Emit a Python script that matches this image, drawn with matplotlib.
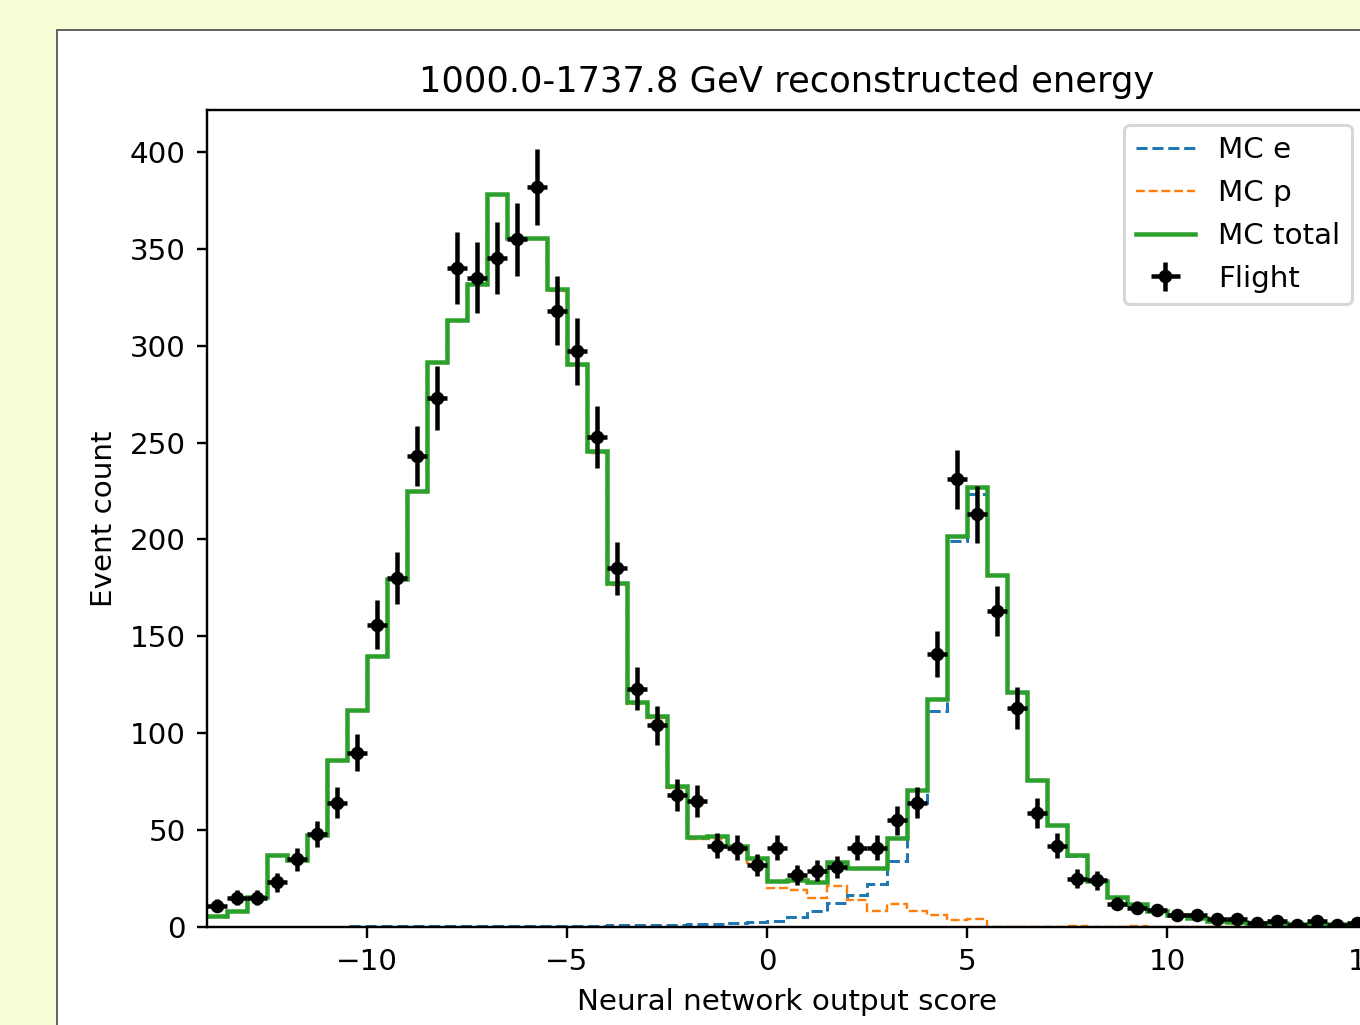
import numpy as np
from matplotlib import pyplot as plt
from matplotlib.patches import Rectangle

plt.rcParams['font.size'] = 9.8

# binning of the network score histogram
edges = np.arange(-14, 15.01, 0.5)
centers = edges[:-1] + 0.25

flight = [11, 15, 15, 23, 35, 48, 64, 90, 156, 180,
          243, 273, 340, 335, 345, 355, 382, 318, 297, 253,
          185, 123, 104, 68, 65, 42, 41, 32, 41, 27,
          29, 31, 41, 41, 55, 64, 141, 231, 213, 163,
          113, 59, 42, 25, 24, 12, 10, 9, 6, 6,
          4, 4, 2, 3, 1, 3, 1, 2]

mc_e = [0.1, 0.1, 0.1, 0.2, 0.2, 0.2, 0.2, 0.3, 0.3, 0.3,
        0.3, 0.4, 0.4, 0.4, 0.5, 0.5, 0.5, 0.6, 0.6, 0.7,
        0.8, 0.8, 0.9, 1.1, 1.3, 1.7, 2.2, 2.6, 3.0, 5.0,
        8.3, 12.2, 16.5, 22.0, 34.0, 63.0, 111.5, 199.0, 223.5, 181.5,
        121.5, 76.0, 52.5, 36.5, 23.5, 15.5, 11.5, 8.0, 6.0, 4.5,
        3.0, 2.5, 2.0, 2.0, 1.5, 1.5, 1.5, 1.5]

mc_p = [5.4, 7.9, 15.4, 36.8, 34.3, 47.3, 85.8, 111.7, 139.7, 179.2,
        224.7, 291.1, 312.6, 331.6, 377.5, 355.0, 355.0, 328.4, 289.9, 244.8,
        176.7, 115.2, 108.1, 71.9, 45.2, 45.3, 39.8, 32.9, 20.0, 19.0,
        14.8, 21.0, 14.0, 8.3, 11.9, 8.3, 6.0, 3.6, 4.1, 0.0,
        0.0, 0.0, 0.0, 0.5, 0.0, 0.0, 0.5, 0.0, 0.0, 0.0,
        0.0, 0.0, 0.0, 0.0, 0.0, 0.0, 0.0, 0.0]

mc_total = [5.5, 8.0, 15.5, 37.0, 34.5, 47.5, 86.0, 112.0, 140.0, 179.5,
            225.0, 291.5, 313.0, 332.0, 378.0, 355.5, 355.5, 329.0, 290.5, 245.5,
            177.5, 116.0, 109.0, 73.0, 46.5, 47.0, 42.0, 35.5, 23.5, 24.0,
            23.0, 33.5, 30.5, 30.5, 46.0, 70.5, 117.5, 202.0, 227.0, 181.5,
            121.5, 76.0, 52.5, 37.0, 23.5, 15.5, 12.0, 8.0, 6.0, 4.5,
            3.0, 2.5, 2.0, 2.0, 1.5, 1.5, 1.5, 1.5]

W, H, DPI = 1360, 1025, 216
fig = plt.figure(figsize=(W / DPI, H / DPI), dpi=DPI, facecolor='#f4fdd3')

# white page the plot sits on (cropped at right/bottom)
fig.add_artist(Rectangle((57 / W, -0.2), 1.2, 1.2 - 30 / H, transform=fig.transFigure,
                         facecolor='white', edgecolor='#555555', linewidth=0.6, zorder=-1))

ax = fig.add_axes([207 / W, 98 / H, 1160 / W, 817 / H])

ax.stairs(mc_e, edges, baseline=None, color='C0', linestyle='--', linewidth=1.0, label='MC e')
ax.stairs(mc_p, edges, baseline=None, color='C1', linestyle='--', linewidth=0.8, label='MC p')
ax.stairs(mc_total, edges, baseline=None, color='C2', linewidth=1.5, label='MC total')
ax.errorbar(centers, flight, xerr=0.25, yerr=np.sqrt(flight), fmt='o', color='k',
            markersize=3.5, label='Flight')

ax.set_xlim(-14, 15)
ax.set_ylim(0, 421.6)
ax.set_title('1000.0-1737.8 GeV reconstructed energy')
ax.set_xlabel('Neural network output score')
ax.set_ylabel('Event count')
ax.legend(loc='upper right')

fig.savefig('out.png', dpi=DPI, facecolor=fig.get_facecolor())
